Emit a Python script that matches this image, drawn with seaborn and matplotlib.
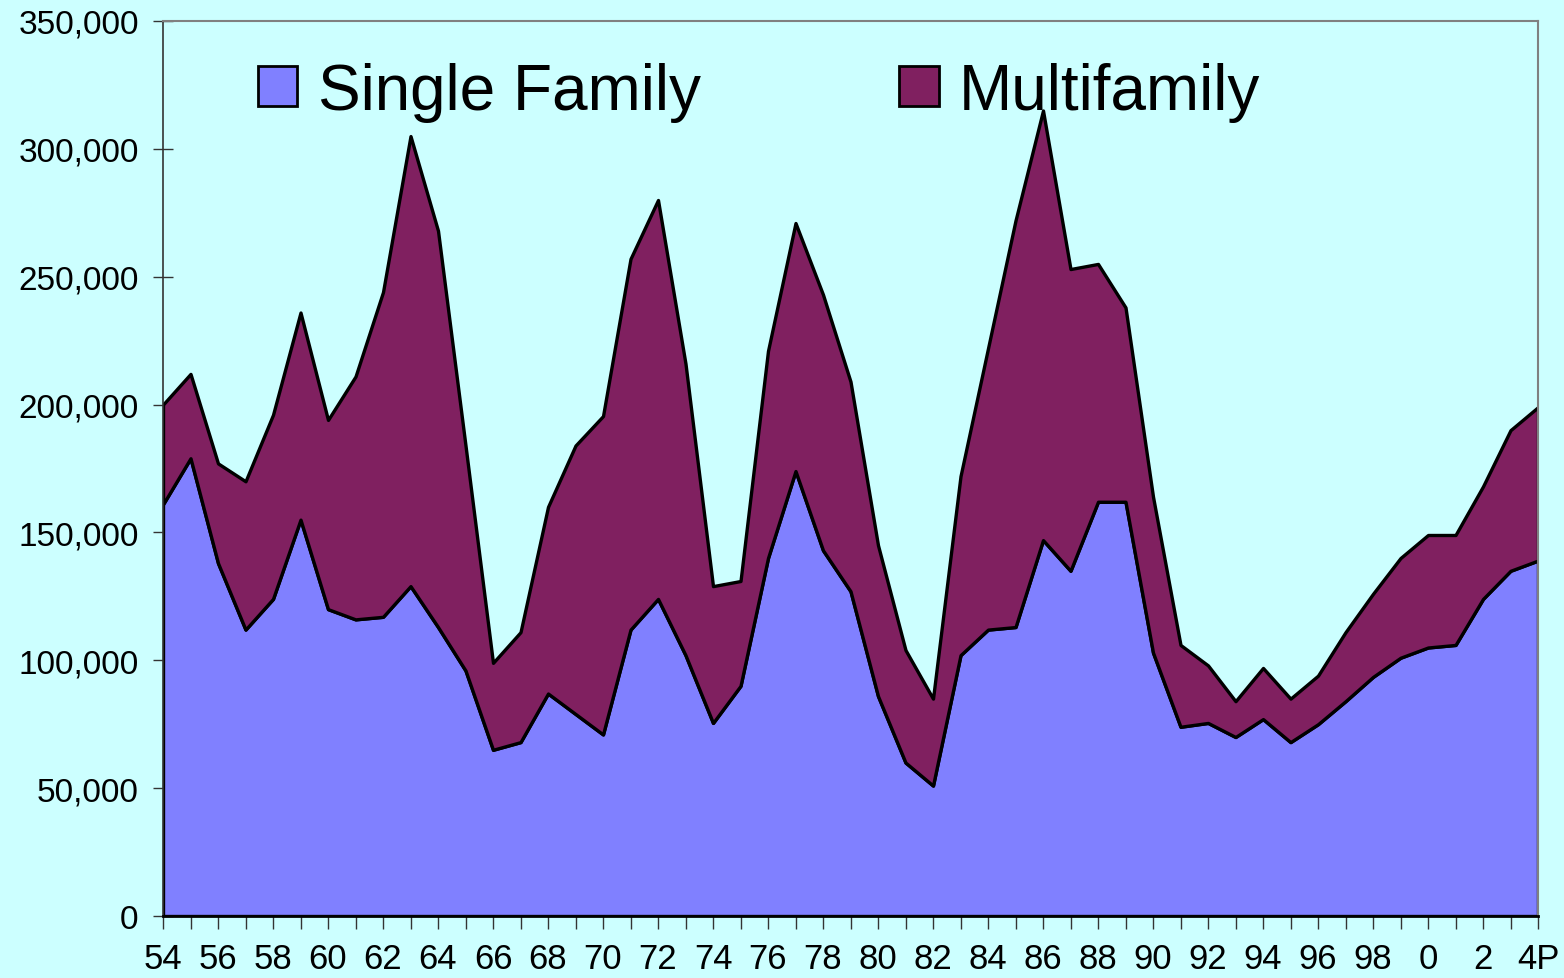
import numpy as np
import pandas as pd
import matplotlib.pyplot as plt
import seaborn as sns

# Housing starts, 1954-2004 (4P = 2004 preliminary)
years = list(range(1954, 2005))
single_family = [161, 179, 138, 112, 124, 155, 120, 116, 117, 129,
                 113, 96, 65, 68, 87, 79, 71, 112, 124, 102,
                 75.5, 90, 140, 174, 143, 127, 86, 60, 51, 102,
                 112, 113, 147, 135, 162, 162, 103, 74, 75.5, 70,
                 77, 68, 75, 84, 93.5, 101, 105, 106, 124, 135, 139]
total_starts = [200, 212, 177, 170, 196, 236, 194, 211, 244, 305,
                268, 184, 99, 111, 160, 184, 195.5, 257, 280, 216,
                129, 131, 221, 271, 243, 209, 145, 104, 85, 172,
                222, 272, 315, 253, 255, 238, 164, 106, 98, 84,
                97, 85, 94, 111, 126, 140, 149, 149, 168, 190, 199]
tick_labels = ["54", "56", "58", "60", "62", "64", "66", "68", "70", "72",
               "74", "76", "78", "80", "82", "84", "86", "88", "90", "92",
               "94", "96", "98", "0", "2", "4P"]

df = pd.DataFrame({"year": years,
                   "single": np.array(single_family) * 1000,
                   "total": np.array(total_starts) * 1000})
df["multi"] = df["total"] - df["single"]
df["x"] = df["year"] - 1954

BG = "#CCFFFF"
C_SINGLE = "#8080FF"
C_MULTI = "#802060"

sns.set_style("white")
plt.rcParams["font.family"] = ["Liberation Sans", "DejaVu Sans"]
plt.rcParams["text.color"] = "black"
plt.rcParams["xtick.color"] = "black"
plt.rcParams["ytick.color"] = "black"

fig = plt.figure(figsize=(15.64, 9.79), dpi=100, facecolor=BG)
ax = fig.add_axes([163 / 1564, 1 - 917 / 979, 1375 / 1564, 895 / 979])
ax.set_facecolor(BG)

ax.stackplot(df["x"], df["single"], df["multi"],
             colors=[C_SINGLE, C_MULTI], labels=["Single Family", "Multifamily"],
             edgecolor="black", linewidth=2.4)

ax.set_xlim(0, 50)
ax.set_ylim(0, 350000)

# y axis
ax.set_yticks(np.arange(0, 350001, 50000))
ax.set_yticklabels([f"{v:,}" for v in range(0, 350001, 50000)], fontsize=24)
ax.tick_params(axis="y", direction="inout", length=15, width=1, pad=10,
               color="#333333", labelcolor="black", left=True)

# x axis: a tick every year, label every second year
ax.set_xticks(df["x"])
xl = []
for i in range(len(years)):
    xl.append(tick_labels[i // 2] if i % 2 == 0 else "")
ax.set_xticklabels(xl, fontsize=25, family=["Liberation Sans Narrow", "Liberation Sans"])
ax.tick_params(axis="x", direction="out", length=9, width=1, pad=10,
               color="#333333", labelcolor="black", bottom=True)

for side in ["top", "right"]:
    ax.spines[side].set_color("#808080")
    ax.spines[side].set_linewidth(1.5)
ax.spines["left"].set_color("#333333")
ax.spines["left"].set_linewidth(1.2)
ax.spines["bottom"].set_color("black")
ax.spines["bottom"].set_linewidth(2)

leg = ax.legend(loc="center left", bbox_to_anchor=(0.069, 0.921), ncol=2,
                frameon=False, fontsize=46, borderaxespad=0, borderpad=0,
                handlelength=0.62, handleheight=0.57, handletextpad=0.32,
                columnspacing=3.1)
for h in leg.legend_handles:
    h.set_edgecolor("black")
    h.set_linewidth(2)
for t in leg.get_texts():
    t.set_color("black")

fig.savefig("out.png", dpi=100, facecolor=BG)
